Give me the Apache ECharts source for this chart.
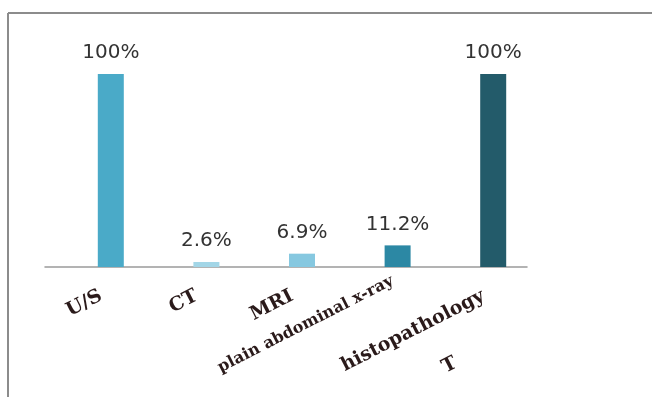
<!DOCTYPE html>
<html>
<head>
<meta charset="utf-8">
<script src="https://cdn.jsdelivr.net/npm/echarts@6/dist/echarts.min.js"></script>
<style>
html,body{margin:0;padding:0;background:#fff;}
#chart{width:652px;height:397px;}
</style>
</head>
<body>
<div id="chart"></div>
<script>
const categories = ['U/S', 'CT', 'MRI', 'plain abdominal x-ray', 'histopathology'];
const values = [100, 2.6, 6.9, 11.2, 100];
const valueLabels = ['100%', '2.6%', '6.9%', '11.2%', '100%'];
const barColors = ['#4aaac8', '#a3d6e7', '#86c8e0', '#2c88a4', '#235b6a'];
const extraLabels = ['', '', '', '', 'T'];

const chart = echarts.init(document.getElementById('chart'));

const labelFont = { fontFamily: 'DejaVu Serif', fontWeight: 'bold', color: '#2a1a1a' };

chart.setOption({
  animation: false,
  backgroundColor: '#fff',
  graphic: [
    { type: 'line', shape: { x1: 8, y1: 13, x2: 8, y2: 397 }, style: { stroke: '#8c8c8c', lineWidth: 2 } },
    { type: 'line', shape: { x1: 8, y1: 13, x2: 652, y2: 13 }, style: { stroke: '#8c8c8c', lineWidth: 2 } }
  ],
  grid: [
    { left: 63, right: 111, top: 74, bottom: 130 },
    { left: 45, right: 125, top: 74, bottom: 130 }
  ],
  xAxis: [
    {
      type: 'category',
      gridIndex: 0,
      data: categories,
      axisLine: { show: false },
      axisTick: { show: false },
      axisLabel: Object.assign({
        interval: 0,
        rotate: 27,
        margin: 23,
        fontSize: 19,
        formatter: function (v) {
          if (v === 'plain abdominal x-ray') return '{x|' + v + '}';
          return '{n|' + v + '}';
        },
        rich: {
          n: Object.assign({ fontSize: 19, padding: [0, 11, 0, 0] }, labelFont),
          x: Object.assign({ fontSize: 16, padding: [0, 0, 22, 0] }, labelFont)
        }
      }, labelFont)
    },
    {
      type: 'value',
      gridIndex: 1,
      min: 0,
      max: 1,
      axisLine: { show: true, lineStyle: { color: '#9a9a9a', width: 1.5 } },
      axisTick: { show: false },
      axisLabel: { show: false },
      splitLine: { show: false }
    },
    {
      type: 'category',
      gridIndex: 0,
      data: categories,
      position: 'bottom',
      axisLine: { show: false },
      axisTick: { show: false },
      axisLabel: Object.assign({
        interval: 0,
        rotate: 27,
        margin: 76,
        fontSize: 19,
        padding: [0, 42, 0, 0],
        formatter: function (v, i) { return extraLabels[i]; }
      }, labelFont)
    }
  ],
  yAxis: [
    { type: 'value', gridIndex: 0, min: 0, max: 100, show: false },
    { type: 'value', gridIndex: 1, min: 0, max: 1, show: false }
  ],
  series: [
    {
      type: 'bar',
      xAxisIndex: 0,
      yAxisIndex: 0,
      barWidth: 26,
      data: values.map(function (v, i) {
        return { value: v, itemStyle: { color: barColors[i] } };
      }),
      label: {
        show: true,
        position: 'top',
        distance: 11,
        color: '#333',
        fontFamily: 'DejaVu Sans',
        fontSize: 20,
        formatter: function (p) { return valueLabels[p.dataIndex]; }
      }
    }
  ]
});
</script>
</body>
</html>
